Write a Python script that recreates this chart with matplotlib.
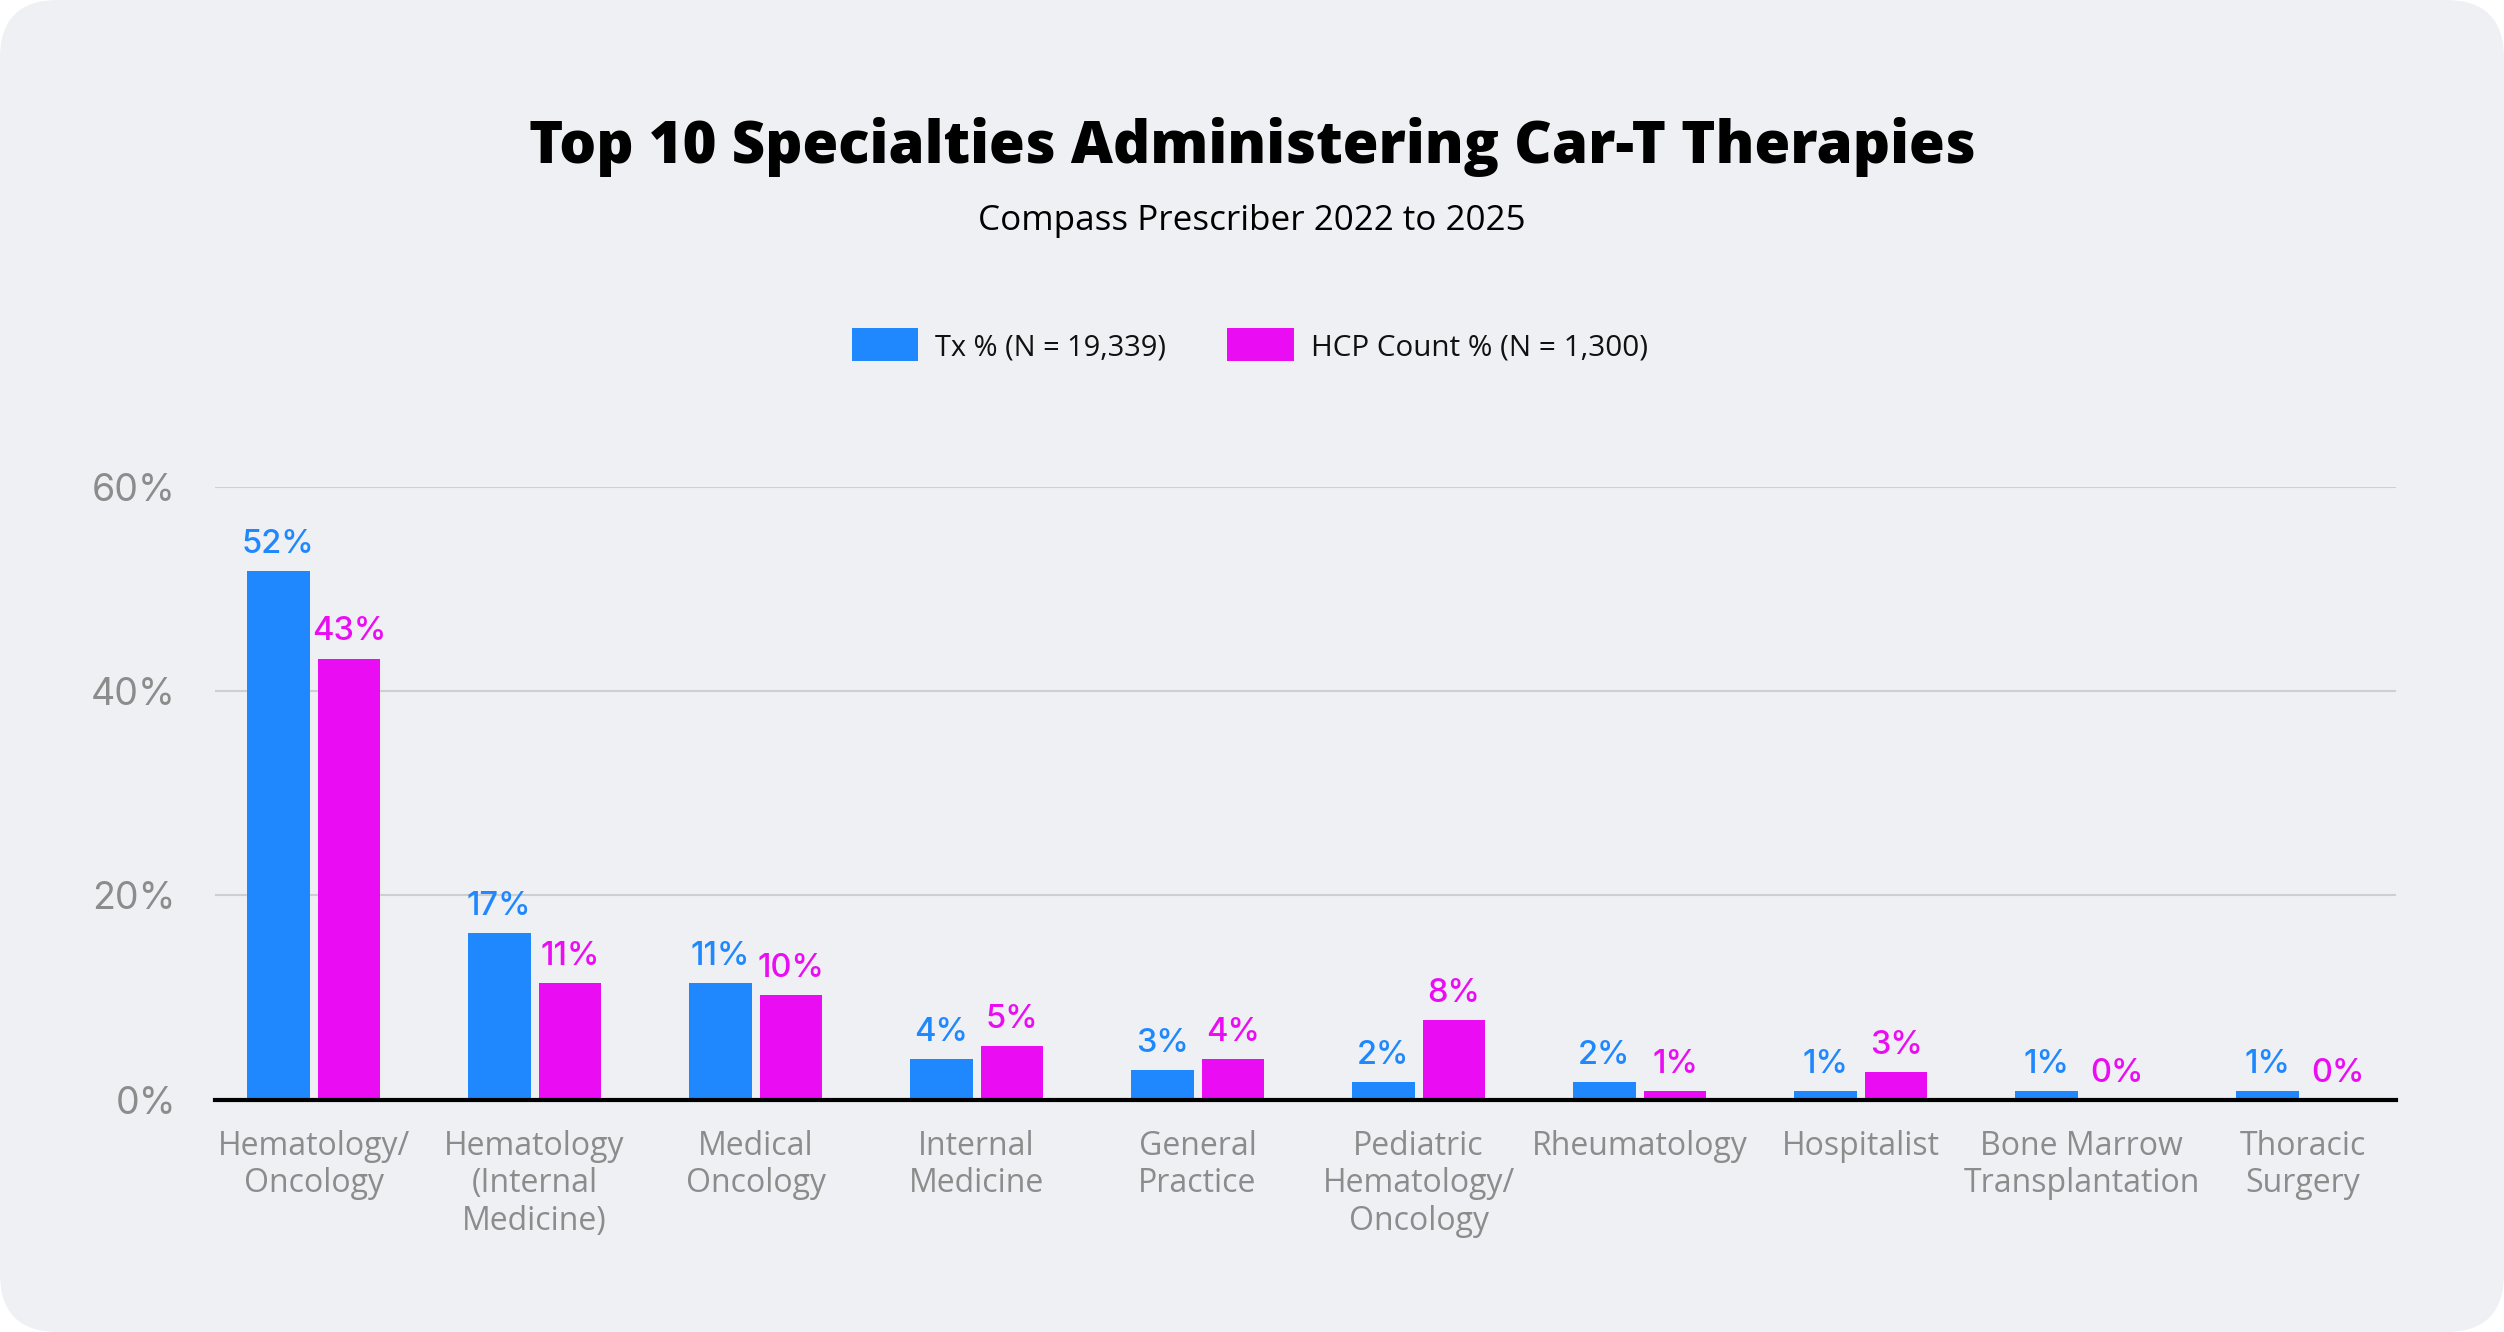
import matplotlib
matplotlib.use("Agg")
import matplotlib.pyplot as plt
from matplotlib.patches import FancyBboxPatch, Rectangle
import numpy as np

# ---------------- data ----------------
categories = ["Hematology/\nOncology", "Hematology\n(Internal\nMedicine)", "Medical\nOncology",
              "Internal\nMedicine", "General\nPractice", "Pediatric\nHematology/\nOncology",
              "Rheumatology", "Hospitalist", "Bone Marrow\nTransplantation", "Thoracic\nSurgery"]
tx_values = [51.8, 16.3, 11.4, 4.0, 2.9, 1.7, 1.7, 0.8, 0.8, 0.8]
hcp_values = [43.2, 11.4, 10.2, 5.2, 4.0, 7.8, 0.8, 2.7, 0.0, 0.0]
tx_labels = ["52%", "17%", "11%", "4%", "3%", "2%", "2%", "1%", "1%", "1%"]
hcp_labels = ["43%", "11%", "10%", "5%", "4%", "8%", "1%", "3%", "0%", "0%"]
y_ticks = [0, 20, 40, 60]
y_tick_labels = ["0%", "20%", "40%", "60%"]
series_names = ["Tx % (N = 19,339)", "HCP Count % (N = 1,300)"]
title = "Top 10 Specialties Administering Car-T Therapies"
subtitle = "Compass Prescriber 2022 to 2025"

# ---------------- style ----------------
W, H = 2504, 1332
BLUE = "#1F88FE"
PINK = "#EA0DF4"
BG = "#EFF0F4"
GRAY = "#8C8C8C"
POP = ["Open Sans", "DejaVu Sans"]
NUM = ["Inter", "DejaVu Sans"]

fig = plt.figure(figsize=(W / 100, H / 100), dpi=100, facecolor="white")

# background rounded panel
bg = fig.add_axes([0, 0, 1, 1], zorder=0)
bg.set_xlim(0, W)
bg.set_ylim(0, H)
bg.axis("off")
bg.add_patch(FancyBboxPatch((0, 0), W, H, boxstyle="round,pad=0,rounding_size=58",
                            facecolor=BG, edgecolor="none"))

# main axes
left, right = 215 / W, 2396 / W
bottom, top = 1 - 1099.5 / H, 1 - 487 / H
ax = fig.add_axes([left, bottom, right - left, top - bottom], zorder=2)
ax.patch.set_alpha(0)

x = np.arange(len(categories))
bw = 0.285
off = 0.1606
ax.bar(x - off, tx_values, width=bw, color=BLUE, zorder=3, label=series_names[0])
ax.bar(x + off, hcp_values, width=bw, color=PINK, zorder=3, label=series_names[1])

for xi, v, lab in zip(x, tx_values, tx_labels):
    ax.annotate(lab, (xi - off, v), xytext=(0, 18), textcoords="offset pixels",
                ha="center", va="baseline", color=BLUE, fontsize=23.5, family=NUM,
                fontweight="medium", annotation_clip=False)
for xi, v, lab in zip(x, hcp_values, hcp_labels):
    ax.annotate(lab, (xi + off, v), xytext=(0, 18), textcoords="offset pixels",
                ha="center", va="baseline", color=PINK, fontsize=23.5, family=NUM,
                fontweight="medium", annotation_clip=False)

ax.set_xlim(-0.4457, 9.423)
ax.set_ylim(0, 60)
ax.set_yticks(y_ticks)
ax.set_yticklabels(y_tick_labels, color=GRAY, fontsize=27, family=NUM)
for t in ax.get_yticklabels():
    t.set_verticalalignment("center_baseline")
ax.set_xticks(x)
ax.set_xticklabels(categories, color=GRAY, fontsize=23, family=POP, linespacing=1.17)
ax.tick_params(axis="both", length=0)
ax.tick_params(axis="y", pad=28)
ax.tick_params(axis="x", pad=22)
ax.grid(axis="y", color="#CFCFCF", linewidth=1.5, zorder=0)
ax.set_axisbelow(True)
for s in ["left", "right", "top"]:
    ax.spines[s].set_visible(False)
ax.spines["bottom"].set_color("black")
ax.spines["bottom"].set_linewidth(3)
ax.spines["bottom"].set_zorder(4)

# titles
t_title = fig.text(1252 / W, 1 - 162.7 / H, title, ha="center", va="baseline",
                   fontsize=40, fontweight=800, family=POP, color="black")
t_sub = fig.text(1252 / W, 1 - 230 / H, subtitle, ha="center", va="baseline",
                 fontsize=22, family=POP, color="black")

# legend (drawn manually)
fig.patches.append(Rectangle((852 / W, 1 - 361 / H), 66 / W, 33 / H, transform=fig.transFigure,
                             facecolor=BLUE, edgecolor="none", zorder=3))
fig.patches.append(Rectangle((1227 / W, 1 - 361 / H), 67 / W, 33 / H, transform=fig.transFigure,
                             facecolor=PINK, edgecolor="none", zorder=3))
t_l1 = fig.text(935 / W, 1 - 355 / H, series_names[0], ha="left", va="baseline",
                fontsize=22, family=POP, color="#111111")
t_l2 = fig.text(1311 / W, 1 - 355 / H, series_names[1], ha="left", va="baseline",
                fontsize=22, family=POP, color="#111111")

# fit text widths to the reference
fig.canvas.draw()
r = fig.canvas.get_renderer()
for t, target in [(t_title, 1442), (t_sub, 546), (t_l1, 231), (t_l2, 336)]:
    w = t.get_window_extent(r).width
    t.set_fontsize(t.get_fontsize() * target / w)

fig.savefig("out.png", dpi=100, facecolor="white")
